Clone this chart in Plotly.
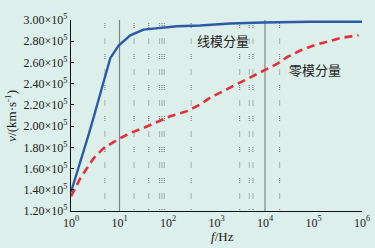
import plotly.graph_objects as go
import numpy as np

# Line-mode (线模分量) velocity vs frequency
line_f = [1, 1.55, 2.31, 3.0, 3.71, 4.7, 6.45, 9.6, 16.7, 31.4, 69, 153, 462, 1920, 9220, 85900, 1000000]
line_v = [1.379e5, 1.652e5, 1.92e5, 2.10e5, 2.25e5, 2.44e5, 2.64e5, 2.76e5, 2.855e5, 2.909e5,
          2.925e5, 2.941e5, 2.948e5, 2.967e5, 2.976e5, 2.983e5, 2.983e5]

# Zero-mode (零模分量) velocity vs frequency
zero_f = [1, 1.55, 2.92, 4.7, 9.6, 16.7, 31.4, 59.3, 111, 247, 463, 745, 1400, 2650, 4980,
          9350, 17700, 28400, 53500, 100000, 190000, 357000, 850000]
zero_v = [1.338e5, 1.507e5, 1.697e5, 1.792e5, 1.878e5, 1.935e5, 1.983e5, 2.036e5, 2.093e5,
          2.141e5, 2.205e5, 2.269e5, 2.331e5, 2.395e5, 2.459e5, 2.522e5, 2.586e5, 2.65e5,
          2.712e5, 2.76e5, 2.798e5, 2.83e5, 2.857e5]

solid_grid_f = [10, 10000]
dotted_grid_f = [5, 20, 40, 67, 75, 84, 300, 3000, 4750, 5650, 20000]

x_tickvals = [1, 10, 100, 1000, 10000, 100000, 1000000]
x_ticktext = ["10<sup>0</sup>", "10<sup>1</sup>", "10<sup>2</sup>", "10<sup>3</sup>",
              "10<sup>4</sup>", "10<sup>5</sup>", "10<sup>6</sup>"]
y_tickvals = [1.2e5, 1.4e5, 1.6e5, 1.8e5, 2.0e5, 2.2e5, 2.4e5, 2.6e5, 2.8e5, 3.0e5]
y_ticktext = [f"{v/1e5:.2f}×10<sup>5</sup>" for v in y_tickvals]

Y_MIN, Y_MAX = 1.2e5, 3.0e5
BG = "#dcefea"

fig = go.Figure()

for f in dotted_grid_f:
    fig.add_trace(go.Scatter(x=[f, f], y=[Y_MAX, Y_MIN], mode="lines",
                             line=dict(color="#7c8784", width=1.2,
                                       dash="0px,3px,1px,1px,1px,1px,1px,7.5px"),
                             hoverinfo="skip", showlegend=False))
for f in solid_grid_f:
    fig.add_trace(go.Scatter(x=[f, f], y=[Y_MAX, Y_MIN], mode="lines",
                             line=dict(color="#7d8583", width=1.2),
                             hoverinfo="skip", showlegend=False))

fig.add_trace(go.Scatter(x=zero_f, y=zero_v, mode="lines", name="零模分量",
                         line=dict(color="#e2313a", width=2.6, dash="8px,5px"),
                         showlegend=False))
fig.add_trace(go.Scatter(x=line_f, y=line_v, mode="lines", name="线模分量",
                         line=dict(color="#2d5aa7", width=2.4),
                         showlegend=False))

serif = "Liberation Serif"
cjk = "Noto Sans CJK SC"

fig.add_annotation(x=np.log10(1380), y=2.805e5, xref="x", yref="y", text="线模分量",
                   showarrow=False, font=dict(family=cjk, size=13, color="#222"))
fig.add_annotation(x=np.log10(105000), y=2.538e5, xref="x", yref="y", text="零模分量",
                   showarrow=False, font=dict(family=cjk, size=13, color="#222"))
fig.add_annotation(x=-0.209, y=0.5, xref="paper", yref="paper", textangle=-90,
                   text="<i>v</i>/(km·s<sup>-1</sup>)", showarrow=False,
                   xanchor="center", yanchor="middle",
                   font=dict(family=serif, size=13, color="#222"))
fig.add_annotation(x=0.52, y=-0.134, xref="paper", yref="paper",
                   text="<i>f</i>/Hz", showarrow=False,
                   xanchor="center", yanchor="middle",
                   font=dict(family=serif, size=13, color="#222"))

fig.update_layout(
    width=375, height=248,
    margin=dict(l=71, r=13, t=20, b=37, autoexpand=False),
    paper_bgcolor=BG, plot_bgcolor=BG,
    showlegend=False,
    xaxis=dict(type="log", range=[0, 6], tickvals=x_tickvals, ticktext=x_ticktext,
               automargin=False,
               showgrid=False, zeroline=False, showline=True, linecolor="#111", linewidth=1.2,
               ticks="", tickfont=dict(family=serif, size=12, color="#222")),
    yaxis=dict(range=[Y_MIN, Y_MAX], tickvals=y_tickvals, ticktext=y_ticktext,
               automargin=False,
               showgrid=False, zeroline=False, showline=True, linecolor="#111", linewidth=1.2,
               ticks="inside", ticklen=3, tickcolor="#111",
               tickfont=dict(family=serif, size=12, color="#222")),
)

fig.write_html(
    "out.html",
    config={"displayModeBar": False},
    post_script="document.body.style.margin='0';document.body.style.padding='0';"
                "document.body.style.background='" + BG + "';",
)
